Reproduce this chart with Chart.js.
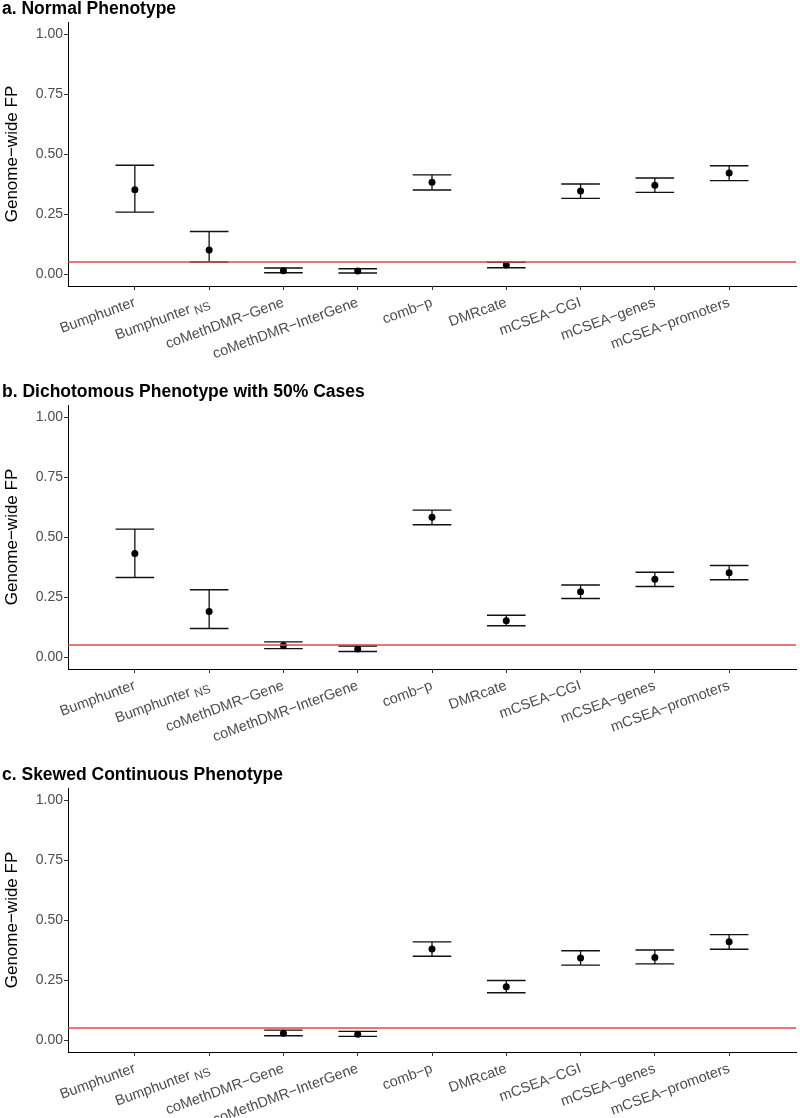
<!DOCTYPE html>
<html><head><meta charset="utf-8">
<script src="https://cdn.jsdelivr.net/npm/chart.js@4.4.0/dist/chart.umd.min.js"></script>
<style>
html,body{margin:0;padding:0;background:#fff;overflow:hidden;width:800px;height:1118px;}
.panel{position:absolute;left:0;width:800px;height:383px;}
</style></head><body>
<div class="panel" style="top:0px"><canvas id="c0" width="800" height="383"></canvas></div>
<div class="panel" style="top:383px"><canvas id="c1" width="800" height="383"></canvas></div>
<div class="panel" style="top:766px"><canvas id="c2" width="800" height="383"></canvas></div>
<script>
// ---- data ----
const categories = ['Bumphunter','Bumphunter','coMethDMR\u2212Gene','coMethDMR\u2212InterGene','comb\u2212p','DMRcate','mCSEA\u2212CGI','mCSEA\u2212genes','mCSEA\u2212promoters'];
const subscripts = ['','NS','','','','','','',''];
const panelTitles = ['a. Normal Phenotype','b. Dichotomous Phenotype with 50% Cases','c. Skewed Continuous Phenotype'];
const yTickValues = [0, 0.25, 0.5, 0.75, 1];
const threshold = 0.05;

const meanA  = [0.351, 0.100, 0.014, 0.013, 0.382, 0.038, 0.346, 0.370, 0.421];
const lowerA = [0.258, 0.050, 0.005, 0.004, 0.350, 0.026, 0.315, 0.340, 0.389];
const upperA = [0.453, 0.177, 0.025, 0.022, 0.413, 0.049, 0.375, 0.400, 0.451];

const meanB  = [0.431, 0.190, 0.048, 0.033, 0.582, 0.151, 0.272, 0.324, 0.351];
const lowerB = [0.331, 0.119, 0.035, 0.023, 0.551, 0.130, 0.244, 0.294, 0.322];
const upperB = [0.533, 0.280, 0.063, 0.046, 0.612, 0.174, 0.300, 0.353, 0.381];

const meanC  = [null, null, 0.028, 0.024, 0.379, 0.222, 0.342, 0.344, 0.409];
const lowerC = [null, null, 0.018, 0.015, 0.349, 0.197, 0.312, 0.317, 0.378];
const upperC = [null, null, 0.041, 0.036, 0.409, 0.248, 0.372, 0.375, 0.439];

// ---- chart ----
const FONT = '"Liberation Sans", Arial, Helvetica, sans-serif';
const CAP = 0.26;

const subPlugin = {
  id: 'subLabels',
  afterDraw(chart) {
    const s = chart.scales.x;
    const items = s.getLabelItems();
    const ctx = chart.ctx;
    subscripts.forEach((t, i) => {
      if (!t || !items[i]) return;
      const it = items[i];
      const [x, y] = it.options.translation;
      ctx.save();
      ctx.translate(x, y);
      ctx.rotate(it.options.rotation);
      ctx.font = '12px ' + FONT;
      ctx.fillStyle = '#4d4d4d';
      ctx.textAlign = 'right';
      ctx.textBaseline = 'middle';
      ctx.fillText(t, 0, it.textOffset + 4);
      ctx.restore();
    });
  }
};

function makeChart(id, title, mean, lower, upper) {
  const pts = [], stems = [], caps = [];
  mean.forEach((v, i) => {
    if (v == null) return;
    pts.push({x: i, y: v});
    stems.push({x: i, y: lower[i]}, {x: i, y: upper[i]}, {x: i, y: null});
    caps.push({x: i - CAP, y: upper[i]}, {x: i + CAP, y: upper[i]}, {x: i, y: null});
    caps.push({x: i - CAP, y: lower[i]}, {x: i + CAP, y: lower[i]}, {x: i, y: null});
  });
  const axisGrid = {drawOnChartArea: false, drawTicks: true, tickLength: 4, color: '#333', lineWidth: 1};
  new Chart(document.getElementById(id), {
    type: 'scatter',
    data: {
      datasets: [
        {data: [{x: -0.9, y: threshold}, {x: 8.9, y: threshold}], showLine: true, borderColor: '#e2474c', borderWidth: 1.3, pointRadius: 0, order: 0},
        {data: pts, pointRadius: 3.5, pointBackgroundColor: '#000', pointBorderWidth: 0, backgroundColor: '#000', order: 1},
        {data: stems, showLine: true, spanGaps: false, borderColor: '#111', borderWidth: 1.3, pointRadius: 0, order: 2},
        {data: caps, showLine: true, spanGaps: false, borderColor: '#111', borderWidth: 1.4, pointRadius: 0, order: 3}
      ]
    },
    options: {
      responsive: false,
      animation: false,
      events: [],
      layout: {padding: {left: 2, right: 2, top: 0, bottom: 0}},
      plugins: {
        legend: {display: false},
        tooltip: {enabled: false},
        title: {display: true, text: title, align: 'start', color: '#000',
                font: {family: FONT, size: 17.5, weight: 'bold', lineHeight: 1},
                padding: {top: 0, bottom: 4.5}}
      },
      scales: {
        x: {
          type: 'linear', min: -0.9, max: 8.9,
          afterBuildTicks: s => { s.ticks = categories.map((c, i) => ({value: i})); },
          afterFit: s => { s.height = 97; },
          ticks: {
            autoSkip: false, minRotation: 20, maxRotation: 20, padding: 4,
            color: '#4d4d4d', font: {family: FONT, size: 14.5},
            callback: v => categories[v] + (subscripts[v] ? '     ' : '')
          },
          grid: axisGrid,
          border: {display: true, color: '#000', width: 1}
        },
        y: {
          type: 'linear', min: -0.05, max: 1.05,
          afterBuildTicks: s => { s.ticks = yTickValues.map(v => ({value: v})); },
          afterFit: s => { s.width = 66; },
          ticks: {padding: 1, color: '#4d4d4d', font: {family: FONT, size: 14},
                  callback: v => v.toFixed(2)},
          grid: axisGrid,
          border: {display: true, color: '#000', width: 1},
          title: {display: true, text: 'Genome\u2212wide FP', color: '#000',
                  font: {family: FONT, size: 17}, padding: {top: 0, bottom: 0}}
        }
      }
    },
    plugins: [subPlugin]
  });
}

makeChart('c0', panelTitles[0], meanA, lowerA, upperA);
makeChart('c1', panelTitles[1], meanB, lowerB, upperB);
makeChart('c2', panelTitles[2], meanC, lowerC, upperC);
</script>
</body></html>
